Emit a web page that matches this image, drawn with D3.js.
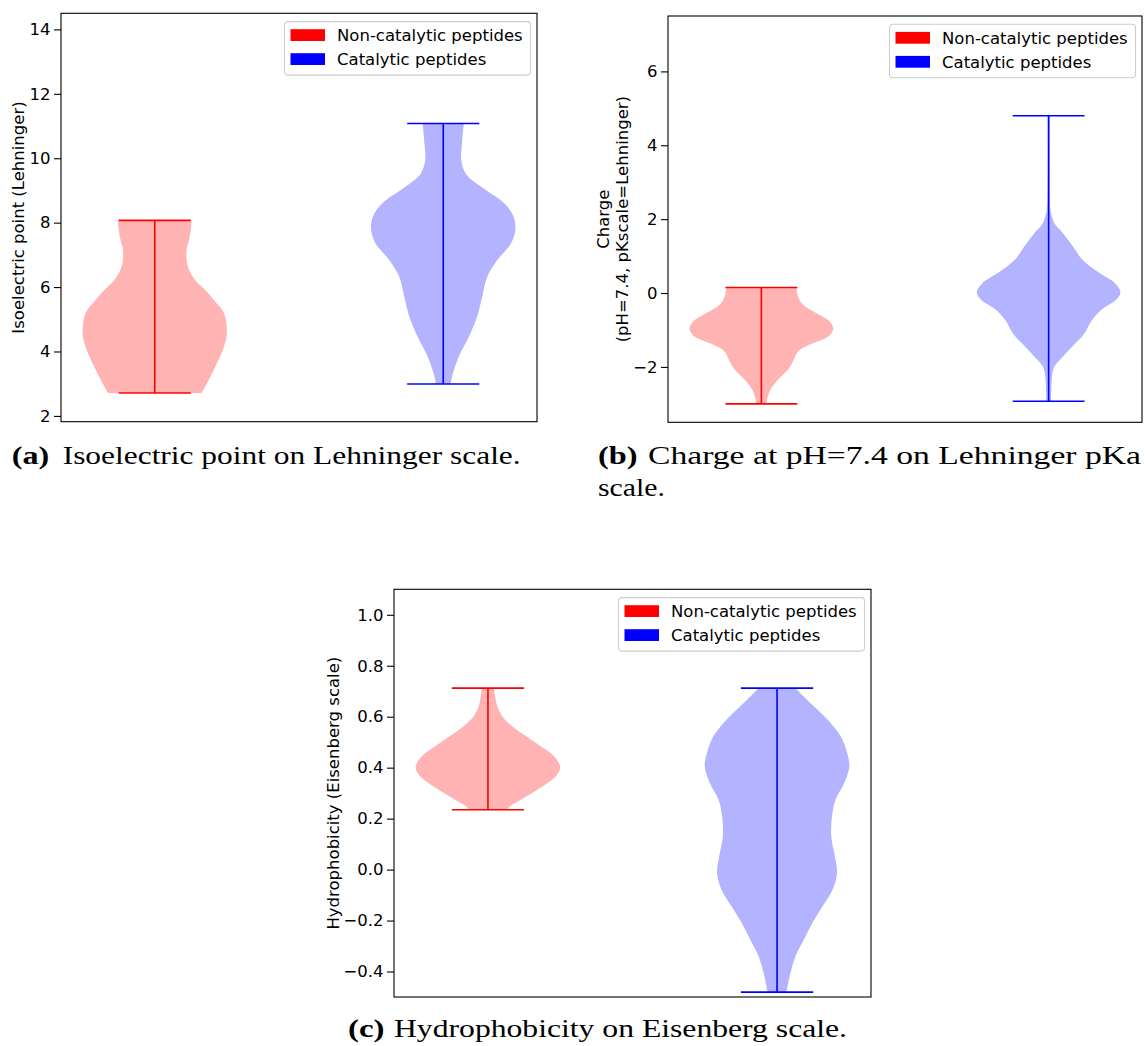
<!DOCTYPE html>
<html>
<head>
<meta charset="utf-8">
<script src="https://cdn.jsdelivr.net/npm/d3@7"></script>
<style>
  html, body { margin: 0; padding: 0; background: #fff; }
  svg { display: block; }
</style>
</head>
<body>
<svg id="chart" width="1145" height="1046"></svg>
<script>
// ---------------- DATA ----------------
const groups = ["Non-catalytic peptides", "Catalytic peptides"];
const positions = [1, 2];

// Violin profiles: [value, relative density (1 = widest point of that violin)]
const pI_nonCat = [[2.71,0.65],[3.12,0.75],[3.53,0.84],[4.15,0.96],[4.57,1.0],[5.19,0.96],[5.60,0.82],[5.91,0.70],[6.22,0.56],[6.63,0.46],[7.15,0.44],[7.46,0.475],[7.77,0.50],[8.07,0.51]];
const pI_cat = [[2.99,0.10],[3.33,0.135],[3.84,0.215],[4.46,0.355],[5.08,0.47],[5.70,0.54],[6.32,0.61],[6.84,0.75],[7.36,0.94],[7.77,1.0],[8.19,0.975],[8.60,0.845],[9.12,0.52],[9.53,0.31],[9.95,0.25],[10.46,0.26],[11.08,0.285]];

const charge_nonCat = [[-3.0,0.07],[-2.85,0.084],[-2.62,0.126],[-2.35,0.23],[-2.08,0.37],[-1.81,0.45],[-1.58,0.51],[-1.40,0.67],[-1.18,0.93],[-0.98,1.0],[-0.77,0.95],[-0.55,0.77],[-0.32,0.58],[-0.09,0.51],[0.15,0.49]];
const charge_cat = [[-2.93,0.033],[-2.62,0.037],[-2.26,0.047],[-1.99,0.08],[-1.72,0.2],[-1.45,0.33],[-1.09,0.50],[-0.77,0.59],[-0.46,0.73],[-0.18,0.94],[0.01,1.0],[0.27,0.92],[0.54,0.71],[0.90,0.47],[1.26,0.34],[1.62,0.2],[1.89,0.08],[2.12,0.04],[2.25,0.025],[3.43,0.015],[4.80,0.015]];

const hyd_nonCat = [[0.235,0.25],[0.255,0.34],[0.287,0.53],[0.327,0.76],[0.366,0.94],[0.401,1.0],[0.444,0.92],[0.484,0.73],[0.523,0.53],[0.562,0.34],[0.601,0.2],[0.640,0.13],[0.680,0.10],[0.712,0.084]];
const hyd_cat = [[-0.481,0.13],[-0.406,0.186],[-0.340,0.255],[-0.275,0.37],[-0.209,0.49],[-0.144,0.63],[-0.078,0.77],[-0.013,0.83],[0.052,0.80],[0.131,0.75],[0.209,0.76],[0.275,0.81],[0.340,0.93],[0.405,1.0],[0.458,0.97],[0.523,0.88],[0.588,0.70],[0.654,0.46],[0.712,0.255]];

// Axis ranges and tick labels
const pI_domain = [1.82, 14.5];
const pI_ticks = [2, 4, 6, 8, 10, 12, 14];
const charge_domain = [-3.5, 7.5];
const charge_ticks = [-2, 0, 2, 4, 6];
const hyd_domain = [-0.5, 1.1];
const hyd_ticks = [-0.4, -0.2, 0.0, 0.2, 0.4, 0.6, 0.8, 1.0];
const x_domain = [0.675, 2.325];

const yLabels = {
  a: ["Isoelectric point (Lehninger)"],
  b: ["Charge", "(pH=7.4, pKscale=Lehninger)"],
  c: ["Hydrophobicity (Eisenberg scale)"]
};
const captions = {
  a: ["(a)", "Isoelectric point on Lehninger scale."],
  b: ["(b)", "Charge at pH=7.4 on Lehninger pKa", "scale."],
  c: ["(c)", "Hydrophobicity on Eisenberg scale."]
};

// ---------------- STYLE / LAYOUT ----------------
const lineColors = ["#ff0000", "#0000ff"];
const fillColors = ["#ffb3b3", "#b3b3ff"];
const FONT = "DejaVu Sans, sans-serif";
const FS = 16.5;
const SERIF = "'Liberation Serif', 'DejaVu Serif', serif";

const svg = d3.select("#chart");

function panel(cfg) {
  const g = svg.append("g").attr("transform", `translate(${cfg.left},${cfg.top})`);
  const W = cfg.width, H = cfg.height;
  const x = d3.scaleLinear().domain(x_domain).range([0, W]);
  const y = d3.scaleLinear().domain(cfg.domain).range([H, 0]);

  const halfMax = 0.25; // max half-width in x units
  cfg.series.forEach((prof, i) => {
    const pos = positions[i];
    const area = d3.area()
      .y(d => y(d[0]))
      .x0(d => x(pos - halfMax * d[1]))
      .x1(d => x(pos + halfMax * d[1]))
      .curve(d3.curveCatmullRom.alpha(0.5));
    g.append("path").datum(prof).attr("d", area)
      .attr("fill", fillColors[i]).attr("stroke", "none");

    const vmin = prof[0][0], vmax = prof[prof.length - 1][0];
    const capHalf = halfMax * 0.5;
    const lines = [
      [pos, vmin, pos, vmax],
      [pos - capHalf, vmin, pos + capHalf, vmin],
      [pos - capHalf, vmax, pos + capHalf, vmax]
    ];
    g.selectAll(null).data(lines).enter().append("line")
      .attr("x1", d => x(d[0])).attr("y1", d => y(d[1]))
      .attr("x2", d => x(d[2])).attr("y2", d => y(d[3]))
      .attr("stroke", lineColors[i]).attr("stroke-width", 1.6);
  });

  // y axis
  const ax = g.append("g").call(
    d3.axisLeft(y).tickValues(cfg.ticks).tickSize(7).tickPadding(3.5).tickFormat(d3.format(cfg.fmt))
  );
  ax.select(".domain").remove();
  ax.selectAll(".tick line").attr("stroke", "#000").attr("stroke-width", 1.1);
  ax.selectAll(".tick text").attr("font-family", FONT).attr("font-size", FS).attr("fill", "#000");

  // frame
  g.append("rect").attr("x", 0).attr("y", 0).attr("width", W).attr("height", H)
    .attr("fill", "none").attr("stroke", "#000").attr("stroke-width", 1.1);

  // y label
  const lbl = g.append("text")
    .attr("transform", `translate(${cfg.labelX},${H / 2}) rotate(-90)`)
    .attr("text-anchor", "middle").attr("font-family", FONT).attr("font-size", FS).attr("fill", "#000");
  const n = cfg.label.length;
  cfg.label.forEach((t, k) => {
    lbl.append("tspan").attr("x", 0).attr("y", -(n - 1 - k) * 19.2).text(t);
  });

  // legend
  const LW = 246, LH = 53.5;
  const lg = g.append("g").attr("transform", `translate(${W - 6.5 - LW},${8.3})`);
  lg.append("rect").attr("width", LW).attr("height", LH).attr("rx", 3.5)
    .attr("fill", "#fff").attr("fill-opacity", 0.8).attr("stroke", "#cccccc").attr("stroke-width", 1.1);
  groups.forEach((name, i) => {
    const cy = 13.5 + i * 24;
    lg.append("rect").attr("x", 6).attr("y", cy - 5.9).attr("width", 34.5).attr("height", 11.8)
      .attr("fill", lineColors[i]);
    lg.append("text").attr("x", 52.5).attr("y", cy + 5.9)
      .attr("font-family", FONT).attr("font-size", FS).attr("fill", "#000").text(name);
  });
}

panel({ left: 61, top: 13.3, width: 476, height: 408.4, domain: pI_domain, ticks: pI_ticks, fmt: "d",
  series: [pI_nonCat, pI_cat], label: yLabels.a, labelX: -37 });
panel({ left: 668, top: 16, width: 474, height: 406.3, domain: charge_domain, ticks: charge_ticks, fmt: "d",
  series: [charge_nonCat, charge_cat], label: yLabels.b, labelX: -40 });
panel({ left: 394, top: 589.3, width: 477, height: 407.7, domain: hyd_domain, ticks: hyd_ticks, fmt: ".1f",
  series: [hyd_nonCat, hyd_cat], label: yLabels.c, labelX: -55.5 });

// captions
function caption(xb, blen, xt, yb, parts, len, extra) {
  svg.append("text").attr("x", xb).attr("y", yb).attr("font-family", SERIF).attr("font-size", 26)
    .attr("font-weight", "bold").attr("fill", "#000")
    .attr("textLength", blen).attr("lengthAdjust", "spacingAndGlyphs").text(parts[0]);
  svg.append("text").attr("x", xt).attr("y", yb).attr("font-family", SERIF).attr("font-size", 26)
    .attr("fill", "#000").attr("textLength", len).attr("lengthAdjust", "spacingAndGlyphs").text(parts[1]);
  if (extra) {
    svg.append("text").attr("x", xb).attr("y", yb + 32).attr("font-family", SERIF).attr("font-size", 26)
      .attr("fill", "#000").attr("textLength", extra).attr("lengthAdjust", "spacingAndGlyphs").text(parts[2]);
  }
}
caption(11.7, 37.5, 62.7, 464, captions.a, 458);
caption(598, 39.5, 648, 464, captions.b, 493, 67);
caption(348, 36.5, 394, 1037, captions.c, 453);
</script>
</body>
</html>
